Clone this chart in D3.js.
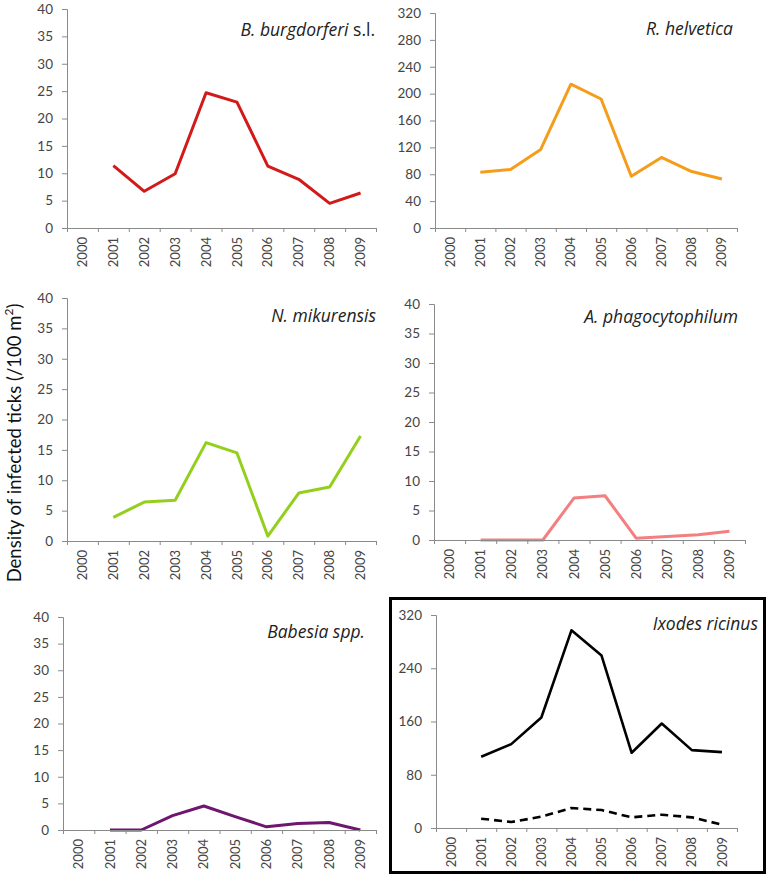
<!DOCTYPE html>
<html>
<head>
<meta charset="utf-8">
<script src="https://cdn.jsdelivr.net/npm/d3@7"></script>
<style>
  html, body { margin: 0; padding: 0; background: #fff; }
  svg { display: block; font-family: Lato, "Open Sans", sans-serif; }
</style>
</head>
<body>
<svg id="chart" width="769" height="879"></svg>
<script>
// ---- data ----
const years = ["2000", "2001", "2002", "2003", "2004", "2005", "2006", "2007", "2008", "2009"];
const bBurgdorferi = [null, 11.4, 6.7, 9.9, 24.7, 23.0, 11.3, 8.9, 4.5, 6.4];
const rHelvetica   = [null, 83, 87, 117, 214, 192, 77, 105, 84, 73];
const nMikurensis  = [null, 3.9, 6.4, 6.7, 16.2, 14.5, 0.8, 7.9, 8.9, 17.3];
const aPhagocytophilum = [null, 0, 0, 0, 7.1, 7.5, 0.3, 0.6, 0.9, 1.5];
const babesiaSpp   = [null, 0, 0, 2.7, 4.5, 2.5, 0.6, 1.2, 1.4, 0];
const ixodesAll      = [null, 107, 126, 166, 297, 259, 113, 157, 117, 114];
const ixodesInfected = [null, 14, 9, 17, 30, 27, 16, 20, 16, 5];
const ticks40  = [0, 5, 10, 15, 20, 25, 30, 35, 40];
const ticks320 = [0, 40, 80, 120, 160, 200, 240, 280, 320];
const ticksIx  = [0, 80, 160, 240, 320];
const yAxisLabel = "Density of infected ticks (/100 m";

// ---- layout ----
const panels = [
  { x0: 67,  x1: 376, yT: 9,   yB: 228, max: 40,  ticks: ticks40,
    title: [["B. burgdorferi", true], [" s.l.", false]], tx: 375, ty: 36,
    series: [{ v: bBurgdorferi, color: "#d21a1a", w: 3 }] },
  { x0: 435, x1: 737, yT: 13,  yB: 228, max: 320, ticks: ticks320,
    title: [["R. helvetica", true]], tx: 733, ty: 35,
    series: [{ v: rHelvetica, color: "#f59d1b", w: 3 }] },
  { x0: 67,  x1: 376, yT: 298, yB: 541, max: 40,  ticks: ticks40,
    title: [["N. mikurensis", true]], tx: 376, ty: 322,
    series: [{ v: nMikurensis, color: "#94cf1e", w: 3 }] },
  { x0: 434, x1: 745, yT: 304, yB: 540, max: 40,  ticks: ticks40,
    title: [["A. phagocytophilum", true]], tx: 738, ty: 323,
    series: [{ v: aPhagocytophilum, color: "#f37f80", w: 3 }] },
  { x0: 63,  x1: 376, yT: 617, yB: 830, max: 40,  ticks: ticks40,
    title: [["Babesia spp.", true]], tx: 365, ty: 638,
    series: [{ v: babesiaSpp, color: "#6e1670", w: 3 }] },
  { x0: 436, x1: 737, yT: 615, yB: 828, max: 320, ticks: ticksIx,
    title: [["Ixodes ricinus", true]], tx: 758, ty: 630,
    series: [{ v: ixodesAll, color: "#000", w: 2.6 },
             { v: ixodesInfected, color: "#000", w: 2.6, dash: "8,5" }] }
];

const svg = d3.select("#chart");
const axisColor = "#8a8a8a";
const textColor = "#454545";

// frame around the Ixodes panel
svg.append("rect").attr("x", 390.5).attr("y", 598.5).attr("width", 374).attr("height", 274)
  .attr("fill", "none").attr("stroke", "#000").attr("stroke-width", 3);

panels.forEach(p => {
  const g = svg.append("g");
  const x = d3.scaleBand().domain(years).range([p.x0, p.x1]).padding(0);
  const xEdge = d3.scaleLinear().domain([0, years.length]).range([p.x0, p.x1]);
  const y = d3.scaleLinear().domain([0, p.max]).range([p.yB, p.yT]);

  // lines
  p.series.forEach(s => {
    const line = d3.line()
      .defined(d => d.v !== null)
      .x(d => x(d.year) + x.bandwidth() / 2)
      .y(d => y(d.v));
    g.append("path")
      .datum(years.map((yr, i) => ({ year: yr, v: s.v[i] })))
      .attr("d", line)
      .attr("fill", "none")
      .attr("stroke", s.color)
      .attr("stroke-width", s.w)
      .attr("stroke-linejoin", "round")
      .attr("stroke-dasharray", s.dash || null);
  });

  // y axis
  const ya = g.append("g").attr("transform", `translate(${p.x0},0)`)
    .call(d3.axisLeft(y).tickValues(p.ticks).tickSize(5).tickPadding(9).tickFormat(d3.format("d")));
  ya.select(".domain").attr("stroke", axisColor);
  ya.selectAll(".tick line").attr("stroke", axisColor);
  ya.selectAll(".tick text").attr("fill", textColor).attr("font-size", 13.5).attr("font-family", "Lato, sans-serif");

  // x axis tick marks at band edges
  const xe = g.append("g").attr("transform", `translate(0,${p.yB})`)
    .call(d3.axisBottom(xEdge).tickValues(d3.range(0, years.length + 1)).tickSize(4).tickSizeOuter(0).tickFormat(""));
  xe.select(".domain").attr("stroke", axisColor);
  xe.selectAll(".tick line").attr("stroke", axisColor);

  // x labels at band centres
  const xl = g.append("g").attr("transform", `translate(0,${p.yB})`)
    .call(d3.axisBottom(x).tickSize(0).tickPadding(0));
  xl.select(".domain").remove();
  xl.selectAll(".tick text")
    .attr("fill", textColor).attr("font-size", 13).attr("font-family", "Lato, sans-serif")
    .attr("text-anchor", "end").attr("dy", "0.35em")
    .attr("transform", "translate(0,9) rotate(-90)")
    .attr("x", 0).attr("y", 0);

  // title
  const t = g.append("text").attr("x", p.tx).attr("y", p.ty)
    .attr("text-anchor", "end").attr("font-size", 17.5)
    .attr("font-family", "'Open Sans', sans-serif").attr("fill", "#222");
  p.title.forEach(([txt, it]) => {
    t.append("tspan").attr("font-style", it ? "italic" : "normal").text(txt);
  });
});

// shared y-axis label
const yl = svg.append("text")
  .attr("transform", "translate(21,443) rotate(-90)")
  .attr("text-anchor", "middle").attr("font-size", 18.5).attr("fill", "#111");
yl.append("tspan").text(yAxisLabel);
yl.append("tspan").attr("font-size", 12).attr("dy", -8).text("2");
yl.append("tspan").attr("dy", 8).text(")");
</script>
</body>
</html>
